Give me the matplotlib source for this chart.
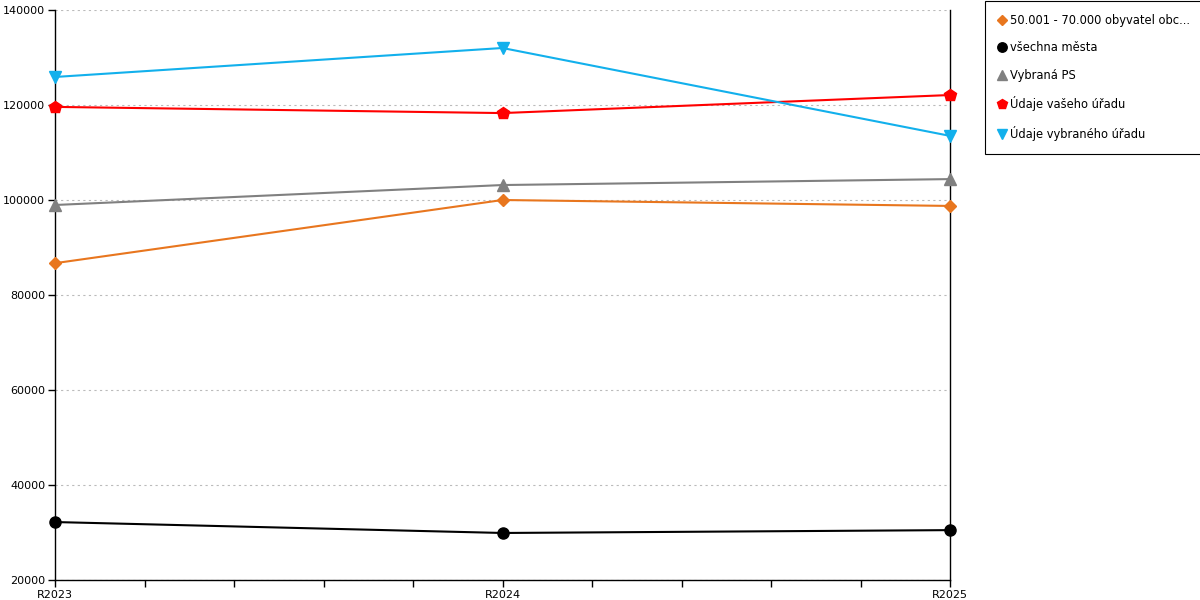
import matplotlib
matplotlib.use('Agg')
import matplotlib.pyplot as plt
from matplotlib.lines import Line2D
import matplotlib.ticker as mticker

years = ['R2023', 'R2024', 'R2025']

orange = [86700, 100000, 98750]
black = [32200, 29900, 30500]
gray = [98950, 103150, 104400]
red = [119600, 118300, 122100]
blue = [125900, 132000, 113500]

SERIES = [
    (orange, '50.001 - 70.000 obyvatel obc...', '#E8761E', 'D', 6),
    (black,  'všechna města',                   '#000000', 'o', 8),
    (gray,   'Vybraná PS',                      '#808080', '^', 8),
    (red,    'Údaje vašeho úřadu',              '#FF0000', 'p', 9),
    (blue,   'Údaje vybraného úřadu',           '#12B0EC', 'v', 8),
]

plt.rcParams['font.family'] = ['DejaVu Sans']

fig = plt.figure(figsize=(12, 6), dpi=100)
ax = fig.add_axes([55 / 1200, 20 / 600, 895 / 1200, 570 / 600])

x = list(range(len(years)))
handles = []
for vals, label, color, marker, ms in SERIES:
    ax.plot(x, vals, color=color, linewidth=1.5, marker=marker, markersize=ms,
            clip_on=False, zorder=3)
    handles.append(Line2D([], [], color=color, marker=marker, linestyle='none',
                          markersize=ms * 0.85, label=label))

ax.set_xlim(0, 2)
ax.set_ylim(20000, 140000)
ax.set_xticks(x)
ax.set_xticklabels(years)
ax.xaxis.set_minor_locator(mticker.MultipleLocator(0.2))
ax.set_yticks(range(20000, 140001, 20000))

ax.tick_params(axis='both', which='both', direction='out', length=5, width=1,
               labelsize=8, color='black')
ax.tick_params(axis='x', pad=2)
ax.tick_params(axis='y', pad=2)

ax.grid(axis='y', linestyle=(0, (2, 3)), color='#BBBBBB', linewidth=0.8)
ax.set_axisbelow(True)

ax.spines['top'].set_visible(False)
for s in ['left', 'right', 'bottom']:
    ax.spines[s].set_color('black')
    ax.spines[s].set_linewidth(1)

leg = fig.legend(handles=handles, loc='upper left', bbox_to_anchor=(985 / 1200, 0.999),
                 fontsize=8.3, frameon=True, fancybox=False, edgecolor='black',
                 framealpha=1, handlelength=0.6, handletextpad=0.4,
                 labelspacing=1.26, borderpad=1.15, borderaxespad=0)
leg.get_frame().set_linewidth(0.8)

fig.savefig('out.png', dpi=100)
